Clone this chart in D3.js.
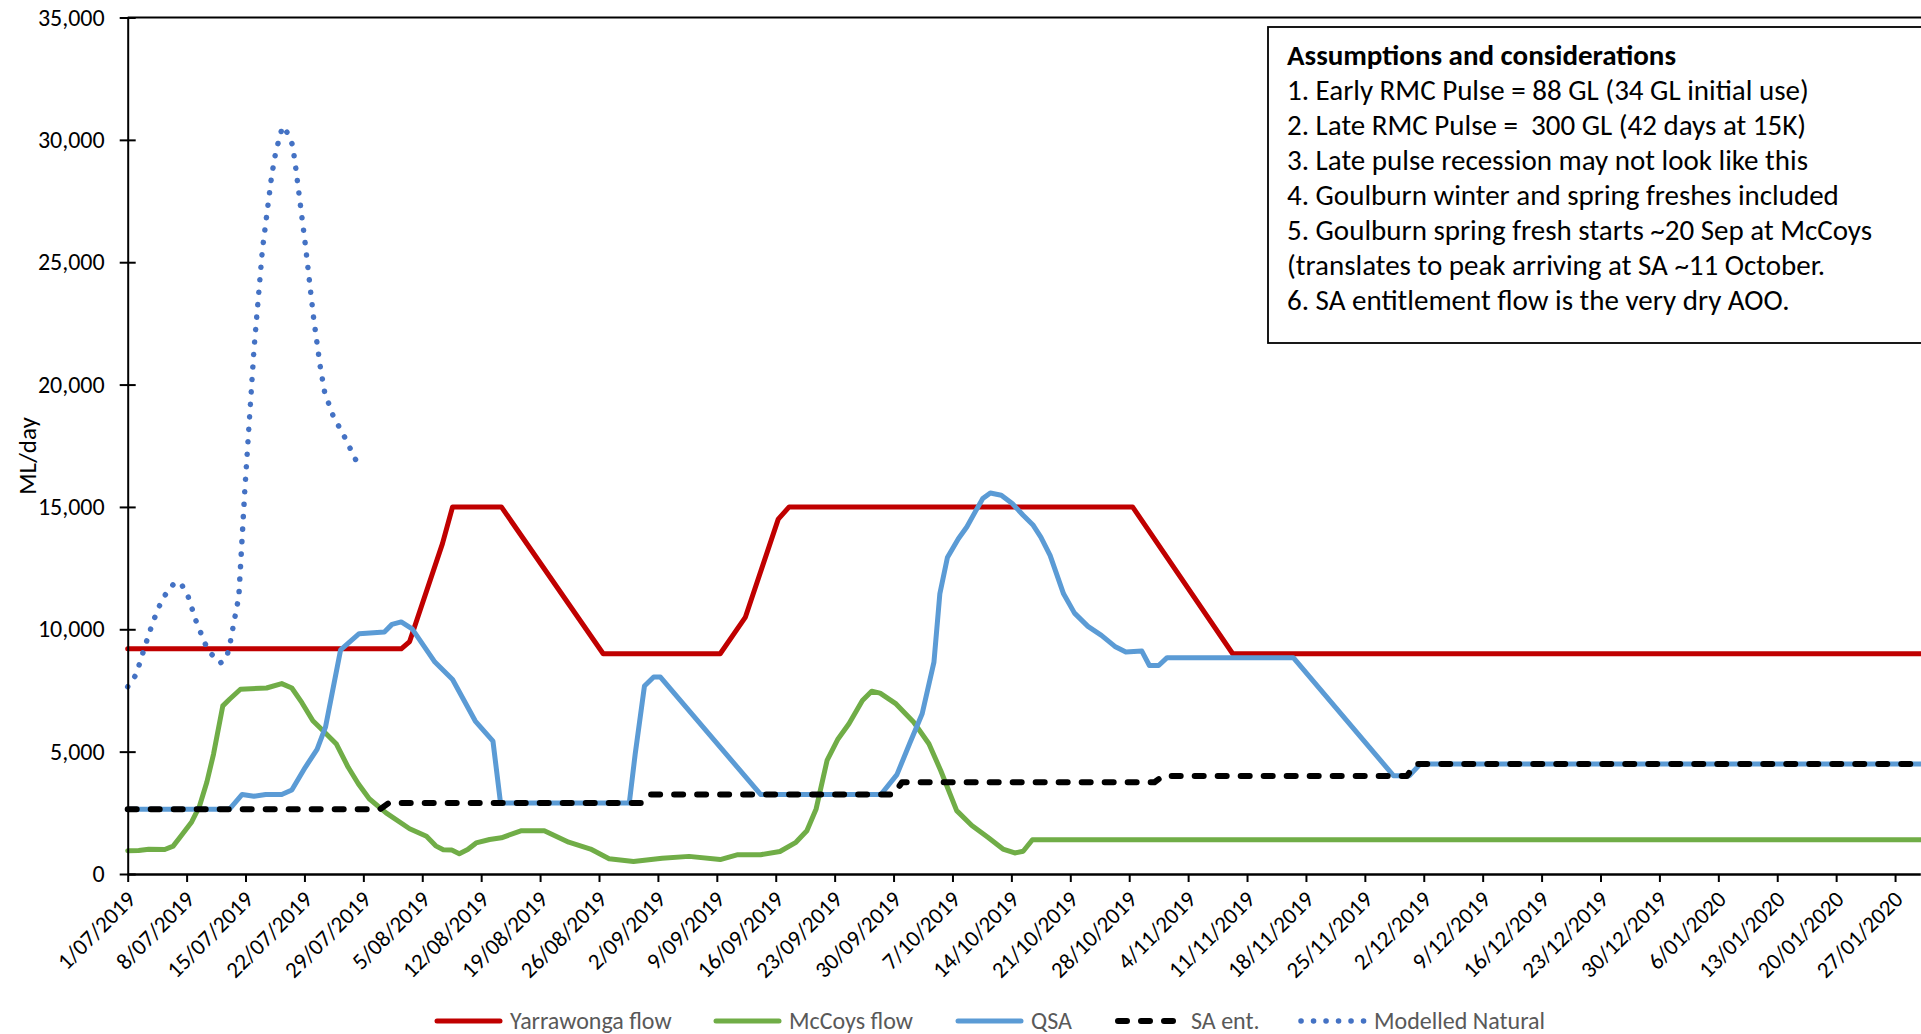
<!DOCTYPE html>
<html><head><meta charset="utf-8">
<script src="https://cdn.jsdelivr.net/npm/d3@7"></script>
<style>
body{margin:0;background:#fff;}
svg{display:block;font-family:Calibri,Carlito,Lato,sans-serif;}
</style></head><body>
<svg id="chart" width="1921" height="1034"></svg>
<script>
// ---------- data ----------
const startDate = new Date(Date.UTC(2019, 6, 1));
const yTickValues = [0, 5000, 10000, 15000, 20000, 25000, 30000, 35000];
const xTickDays = [0,7,14,21,28,35,42,49,56,63,70,77,84,91,98,105,112,119,126,133,140,147,154,161,168,175,182,189,196,203,210];

// day offsets from 1/07/2019 and ML/day values
const yarraDays = [0, 32.5, 33.5, 37.4, 38.6, 44.4, 56.5, 70.4, 73.4, 77.3, 78.6, 119.4, 131.3, 214];
const yarraVals = [9200, 9200, 9500, 13500, 15000, 15000, 9000, 9000, 10500, 14500, 15000, 15000, 9000, 9000];

const mccoysDays = [0,1.3,2.5,4.4,5.4,6.4,7.6,8.5,9.4,10.2,11.3,12.1,13.4,16.5,18.3,19.5,20.7,22.0,23.4,24.8,26.2,27.4,28.7,30.7,33.5,35.5,36.6,37.5,38.5,39.4,40.4,41.4,43.0,44.4,46.8,49.5,52.4,55.0,57.2,60.1,63.5,66.7,70.4,72.5,75.2,77.5,79.4,80.7,81.8,83.1,84.4,85.7,87.3,88.4,89.4,91.3,93.4,95.2,96.6,98.5,100.3,102.2,104.0,105.4,106.4,107.5,214];
const mccoysVals = [950,960,1010,1000,1140,1580,2130,2740,3750,4900,6870,7140,7550,7600,7780,7600,7000,6260,5790,5310,4360,3690,3075,2500,1850,1540,1150,990,980,830,1000,1270,1410,1480,1770,1770,1300,1020,620,510,640,720,590,790,790,920,1295,1770,2660,4640,5520,6140,7090,7470,7390,6950,6200,5320,4230,2590,1980,1500,1020,860,930,1400,1400];

const qsaDays = [0,12.1,13.6,15.0,16.4,18.3,19.5,21.1,22.5,23.5,25.3,27.5,30.5,31.4,32.5,33.8,36.5,38.6,41.3,43.4,44.3,59.6,60.3,61.4,62.5,63.3,75.2,89.5,91.4,92.9,94.4,95.8,96.5,97.4,98.7,99.7,100.8,101.6,102.5,103.8,105.1,106.4,107.6,108.5,109.6,111.2,112.5,114.1,115.7,117.3,118.6,120.5,121.4,122.5,123.5,138.5,150.4,152.3,153.6,214];
const qsaVals = [2650,2650,3250,3180,3250,3250,3430,4360,5090,6000,9160,9820,9890,10200,10300,10020,8660,7950,6250,5430,2900,2900,4900,7680,8050,8050,3250,3250,4060,5320,6550,8660,11450,12930,13700,14180,14860,15340,15570,15480,15140,14660,14250,13770,13020,11450,10660,10120,9750,9300,9070,9110,8520,8520,8840,8840,4020,4020,4500,4500];

const saEntDays = [0, 30, 31, 61, 62, 91, 92, 122, 123, 152, 153, 214];
const saEntVals = [2650, 2650, 2900, 2900, 3250, 3250, 3750, 3750, 4000, 4000, 4500, 4500];

const naturalDays = [0,1,2,3,4,5,5.8,6.5,7.2,8.1,9.2,10.0,11.0,11.7,12.1,12.9,13.2,13.9,15.0,16.0,17.1,17.6,18.4,19.1,19.6,20.0,21.1,22.1,22.9,23.4,24.4,25.8,27.2];
const naturalVals = [7650,8150,9250,10300,11150,11700,11950,11770,11320,10360,9410,8970,8620,8800,9300,10800,11320,15600,21420,25490,28520,29520,30550,30230,29770,28770,25740,22690,20680,19690,18730,17840,16850];

const seriesNames = ["Yarrawonga flow", "McCoys flow", "QSA", "SA ent.", "Modelled Natural"];

const noteTitle = "Assumptions and considerations";
const noteLines = [
  "1. Early RMC Pulse = 88 GL (34 GL initial use)",
  "2. Late RMC Pulse =  300 GL (42 days at 15K)",
  "3. Late pulse recession may not look like this",
  "4. Goulburn winter and spring freshes included",
  "5. Goulburn spring fresh starts ~20 Sep at McCoys",
  "(translates to peak arriving at SA ~11 October.",
  "6. SA entitlement flow is the very dry AOO."
];

// ---------- styles ----------
const styles = [
  {color:"#C00000", width:5, dash:null, cap:"round"},
  {color:"#70AD47", width:5, dash:null, cap:"round"},
  {color:"#5B9BD5", width:5, dash:null, cap:"round"},
  {color:"#000000", width:6, dash:"9 14", cap:"round"},
  {color:"#4472C4", width:5.5, dash:"0.1 12.4", cap:"round"}
];

(function draw() {
const toDate = d => new Date(startDate.getTime() + d * 86400000);
const mk = (days, vals) => days.map((d,i) => ({date: toDate(d), v: vals[i]}));
const seriesData = [
  mk(yarraDays, yarraVals),
  mk(mccoysDays, mccoysVals),
  mk(qsaDays, qsaVals),
  mk(saEntDays, saEntVals),
  mk(naturalDays, naturalVals)
];

const svg = d3.select("#chart");
const pL = 127.7, pT = 17.5, pB = 874, pxPerDay = 8.416;
const endDay = 213;
const x = d3.scaleUtc().domain([startDate, toDate(endDay)]).range([pL, pL + pxPerDay * endDay]);
const y = d3.scaleLinear().domain([0, 35000]).range([pB, pT]);
const FONT = "Calibri,Carlito,Lato,sans-serif";

svg.append("rect").attr("width",1921).attr("height",1034).attr("fill","#fff");

svg.append("line").attr("x1", pL).attr("x2", 1921).attr("y1", pT).attr("y2", pT)
  .attr("stroke","#000").attr("stroke-width",2);

const line = d3.line().x(d => x(d.date)).y(d => y(d.v));
const gLines = svg.append("g");
seriesData.forEach((data, i) => {
  const s = styles[i];
  gLines.append("path").datum(data).attr("d", line)
    .attr("fill","none").attr("stroke", s.color).attr("stroke-width", s.width)
    .attr("stroke-linejoin","round").attr("stroke-linecap", s.cap)
    .attr("stroke-dasharray", s.dash);
});

const yAxis = svg.append("g").attr("transform", `translate(${pL},0)`)
  .call(d3.axisLeft(y).tickValues(yTickValues).tickFormat(d3.format(",")).tickSize(8).tickSizeOuter(0).tickPadding(15));
yAxis.select(".domain").attr("stroke","#000").attr("stroke-width",2);
yAxis.selectAll(".tick line").attr("x1", 8).attr("stroke","#000").attr("stroke-width",2);
yAxis.selectAll(".tick text").attr("font-size", 24).attr("fill","#000").attr("font-family",FONT);

const xAxis = svg.append("g").attr("transform", `translate(0,${pB})`)
  .call(d3.axisBottom(x).tickValues(xTickDays.map(toDate)).tickFormat(d3.utcFormat("%-d/%m/%Y")).tickSize(8).tickSizeOuter(0));
xAxis.select(".domain").attr("stroke","#000").attr("stroke-width",2.5);
xAxis.selectAll(".tick line").attr("stroke","#000").attr("stroke-width",2);
xAxis.selectAll(".tick text")
  .attr("font-size", 23).attr("fill","#000").attr("font-family",FONT)
  .attr("text-anchor","end").attr("x",0).attr("y",0).attr("dy","0.35em")
  .attr("transform","translate(3,21) rotate(-45)");

svg.append("text").attr("transform","translate(27,456) rotate(-90)")
  .attr("text-anchor","middle").attr("dy","0.35em").attr("font-size",25).text("ML/day");

const box = svg.append("g");
box.append("rect").attr("x",1268).attr("y",27).attr("width",700).attr("height",316)
  .attr("fill","#fff").attr("stroke","#000").attr("stroke-width",1.8);
box.append("text").attr("x",1287).attr("y",65).attr("font-size",29).attr("font-weight","bold").text(noteTitle);
noteLines.forEach((t,i) => {
  box.append("text").attr("x",1287).attr("y",100 + i*35).attr("font-size",29)
    .style("white-space","pre").text(t);
});

const legendX = [434, 713, 955, 1115, 1298];
const legendY = 1021;
const lg = svg.append("g");
seriesNames.forEach((name, i) => {
  const s = styles[i];
  lg.append("line").attr("x1", legendX[i] + 3).attr("x2", legendX[i] + 66).attr("y1", legendY).attr("y2", legendY)
    .attr("stroke", s.color).attr("stroke-width", s.width).attr("stroke-linecap", s.cap).attr("stroke-dasharray", s.dash);
  lg.append("text").attr("x", legendX[i] + 76).attr("y", legendY).attr("dy","0.35em")
    .attr("font-size",24).attr("fill","#595959").text(name);
});
})();
</script>
</body></html>
